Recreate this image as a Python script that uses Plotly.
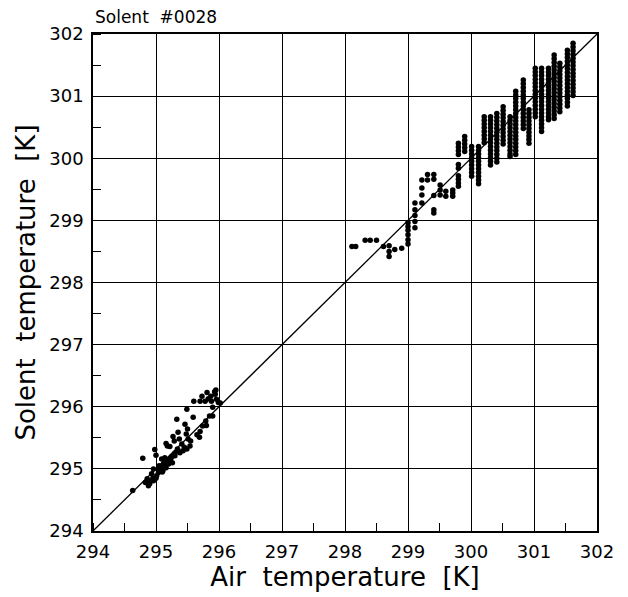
import plotly.graph_objects as go

# Lower cluster (individual points)
low_x = [294.63, 294.79, 294.83, 294.86, 294.88, 294.90, 294.93, 294.96, 294.96, 294.98,
         295.00, 295.01, 295.04, 295.05, 295.07, 295.09, 295.11, 295.13, 295.14, 295.16,
         295.16, 295.18, 295.20, 295.22, 295.23, 295.26, 295.27, 295.29, 295.30, 295.33,
         295.34, 295.35, 295.37, 295.38, 295.41, 295.43, 295.46, 295.48, 295.49, 295.49,
         295.50, 295.51, 295.54, 295.59, 295.60, 295.69, 295.70, 295.73, 295.74, 295.78,
         295.79, 295.81, 295.83, 295.85, 295.87, 295.88, 295.90, 295.93, 295.94, 295.95,
         295.96, 295.99, 296.02,
         295.05, 295.10, 295.15, 295.20, 295.25, 295.30, 295.35, 295.10, 295.00, 294.95,
         294.90, 295.45, 295.55, 295.65, 295.70, 295.80, 295.90, 295.12, 295.18, 295.24]
low_y = [294.65, 295.17, 294.78, 294.84, 294.73, 294.76, 294.92, 295.00, 294.81, 295.31,
         295.22, 294.89, 294.94, 295.05, 295.00, 295.16, 294.97, 295.10, 295.18, 295.41,
         295.02, 295.37, 295.08, 295.36, 295.16, 295.10, 295.52, 295.45, 295.21, 295.80,
         295.32, 295.59, 295.48, 295.26, 295.40, 295.29, 295.72, 295.56, 295.96, 295.32,
         295.64, 295.48, 295.37, 295.83, 296.09, 295.51, 296.09, 296.17, 295.69, 296.09,
         295.77, 296.23, 296.13, 295.85, 296.17, 296.09, 295.99, 296.24, 296.20, 296.27,
         296.12, 296.07, 296.06,
         295.00, 295.05, 295.10, 295.15, 295.20, 295.25, 295.30, 294.95, 294.85, 294.85,
         294.80, 295.35, 295.45, 295.55, 295.60, 295.70, 295.85, 295.08, 295.12, 295.18]

# Upper cluster: columns of dots (air temperature, list of Solent temperatures)
up_cols = [
    (298.11, [298.58]),
    (298.17, [298.58]),
    (298.32, [298.68]),
    (298.40, [298.68]),
    (298.50, [298.68]),
    (298.61, [298.58]),
    (298.70, [298.59, 298.50, 298.42]),
    (298.79, [298.53]),
    (298.90, [298.55]),
    (299.00, [298.96, 298.90, 298.84, 298.77, 298.69, 298.62]),
    (299.11, [299.28, 299.17, 299.08, 298.98, 298.88]),
    (299.22, [299.65, 299.52, 299.41, 299.28]),
    (299.31, [299.74, 299.65]),
    (299.41, [299.74, 299.66, 299.40, 299.17, 299.12]),
    (299.51, [299.57, 299.49, 299.41]),
    (299.60, [299.47, 299.39]),
    (299.71, [299.49, 299.44, 299.39]),
    (299.80, [300.24, 300.18, 300.12, 300.06, 299.90, 299.84, 299.72, 299.66, 299.60, 299.55]),
    (299.90, [300.35, 300.29, 300.23, 300.17, 300.11]),
    (300.01, [300.19, 300.13, 300.07, 300.01, 299.95, 299.89, 299.83, 299.77, 299.71]),
    (300.12, [300.19, 300.13, 300.07, 300.01, 299.95, 299.89, 299.83, 299.77, 299.71, 299.65, 299.59]),
    (300.21, [300.67, 300.61, 300.55, 300.49, 300.43, 300.37, 300.31, 300.25]),
    (300.31, [300.67, 300.61, 300.55, 300.49, 300.43, 300.37, 300.31, 300.25, 300.19, 300.13,
              300.07, 300.01, 299.95, 299.89]),
    (300.41, [300.72, 300.66, 300.60, 300.54, 300.48, 300.42, 300.36, 300.30, 300.24, 300.18,
              300.12, 300.06, 300.00, 299.94]),
    (300.51, [300.83, 300.77, 300.71, 300.65, 300.59, 300.53, 300.47, 300.41, 300.35, 300.29, 300.23]),
    (300.62, [300.67, 300.61, 300.55, 300.49, 300.43, 300.37, 300.31, 300.25, 300.19, 300.13,
              300.07, 300.03]),
    (300.71, [301.08, 301.02, 300.96, 300.90, 300.84, 300.78, 300.72, 300.66, 300.60, 300.54,
              300.48, 300.42, 300.36, 300.30, 300.24, 300.18, 300.12, 300.06]),
    (300.83, [301.26, 301.20, 301.14, 301.08, 301.02, 300.96, 300.90, 300.84, 300.78, 300.72,
              300.66, 300.60, 300.54, 300.48]),
    (300.92, [300.78, 300.72, 300.66, 300.60, 300.54, 300.48, 300.42, 300.36, 300.30, 300.24]),
    (301.02, [301.45, 301.39, 301.33, 301.27, 301.21, 301.15, 301.09, 301.03, 300.97, 300.91,
              300.85, 300.79, 300.73, 300.67]),
    (301.12, [301.45, 301.39, 301.33, 301.27, 301.21, 301.15, 301.09, 301.03, 300.97, 300.91,
              300.85, 300.79, 300.73, 300.67, 300.61, 300.55, 300.49, 300.43]),
    (301.23, [301.45, 301.39, 301.33, 301.27, 301.21, 301.15, 301.09, 301.03, 300.97, 300.91,
              300.85, 300.79, 300.73, 300.67, 300.62]),
    (301.32, [301.66, 301.60, 301.54, 301.48, 301.42, 301.36, 301.30, 301.24, 301.18, 301.12,
              301.06, 301.00, 300.94, 300.88, 300.82, 300.76, 300.70, 300.64]),
    (301.41, [301.53, 301.47, 301.41, 301.35, 301.29, 301.23, 301.17, 301.11, 301.05, 300.99,
              300.93, 300.87, 300.81, 300.75]),
    (301.53, [301.74, 301.68, 301.62, 301.56, 301.50, 301.44, 301.38, 301.32, 301.26, 301.20,
              301.14, 301.08, 301.02, 300.96, 300.90, 300.84]),
    (301.62, [301.85, 301.79, 301.73, 301.67, 301.61, 301.55, 301.49, 301.43, 301.37, 301.31,
              301.25, 301.19, 301.13, 301.07, 301.01]),
]

axis_range = [294, 302]
tick_vals = [294, 295, 296, 297, 298, 299, 300, 301, 302]
title_text = "Solent  #0028"
x_title = "Air  temperature  [K]"
y_title = "Solent  temperature  [K]"

up_x = [c[0] for c in up_cols for _ in c[1]]
up_y = [v for c in up_cols for v in c[1]]

FONT = "DejaVu Sans"

fig = go.Figure()
fig.add_trace(go.Scatter(x=axis_range, y=axis_range, mode="lines",
                         line=dict(color="black", width=1.3), hoverinfo="skip"))
fig.add_trace(go.Scatter(x=low_x + up_x, y=low_y + up_y, mode="markers",
                         marker=dict(color="black", size=5.5, line=dict(width=0))))

axis_common = dict(
    range=axis_range, tickvals=tick_vals, showgrid=True, gridcolor="black", gridwidth=1.2,
    showline=True, linecolor="black", linewidth=1.5, mirror=True, ticks="",
    zeroline=False, tickfont=dict(family=FONT, size=18, color="black"),
    minor=dict(dtick=0.5, tick0=294.5, ticks="inside", ticklen=8, tickcolor="black",
               tickwidth=1.2, showgrid=False),
)

fig.update_layout(
    width=628, height=597,
    margin=dict(l=93, r=31, t=34, b=62),
    paper_bgcolor="white", plot_bgcolor="white",
    showlegend=False,
    font=dict(family=FONT, color="black"),
    xaxis=dict(**axis_common, ticklabelstandoff=4,
               title=dict(text=x_title, font=dict(family=FONT, size=26), standoff=4)),
    yaxis=dict(**axis_common, ticklabelstandoff=4,
               title=dict(text=y_title, font=dict(family=FONT, size=26), standoff=6)),
    annotations=[dict(text=title_text, xref="paper", yref="paper", x=0, y=1, xanchor="left",
                      yanchor="bottom", yshift=5, showarrow=False,
                      font=dict(family=FONT, size=17, color="black"))],
)

fig.write_html("out.html")
